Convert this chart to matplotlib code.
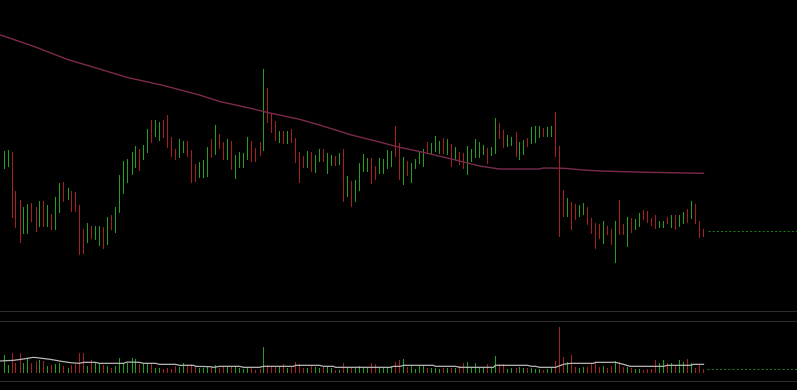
import matplotlib
matplotlib.use("Agg")
import matplotlib.pyplot as plt
import numpy as np

# ---- price bars (arbitrary price units) ----
highs = [149.3,150,147.7,109,100,93.3,96,96.7,93.3,99,
         99,95,86,103.3,116.7,117.7,111.7,109,107.7,95,
         70.7,76.7,74,74.3,74,73.3,82.7,85,93.3,125,
         139,141,147.7,154,151,155,171,180,180,178.3,
         180,185,162.7,151,161,159,159,150,136,137.7,
         140,152.7,161,175,166,157.7,161,159,145,147.7,
         146.7,162.7,159.3,152.3,157.7,231,211.7,186.7,179,169,
         169,169,170.7,161.7,148.3,144.3,149,147.7,145,151,
         150.7,146.7,145,144.3,146.7,150.7,124,119,120,136.7,
         145.7,141.7,141.7,134.3,142.3,141,150,149.3,174,156.7,
         142.7,139,136.7,141,149,151,158.3,156.7,164,159,
         161.7,161,155.7,152.7,147.7,146.7,154,151,161,158.3,
         155,152.3,152.7,181.7,176.7,170,165,162.7,168.3,158.3,
         160,161.7,172.7,174,174,171.7,173.3,174,188.3,154,
         110,101.7,98.3,96,95,97.3,93.3,82.3,76.7,75.7,
         79,74.3,71,79,100,76,83.3,82.3,80.7,86.7,
         90,89,81.7,85,79.3,79,82.7,85,85,85,
         87.7,91,99,96,79,71]
lows = [131.7,134.3,83.3,73.3,58.3,67.3,67.3,79,69.3,74.3,
        74.3,74.3,71,70.7,87.7,99,100.7,89.3,89,45.7,
        47.3,58.3,61.7,61,55,51.7,55.7,70.7,68.3,88.3,
        107.3,118.3,125.7,133.3,130,141,148.3,158.3,164.3,160,
        163.3,153.3,144.3,141,142.7,147.7,144.3,118.3,119.3,123.3,
        123.3,124.3,142.7,145.7,151.7,140.7,141,130.7,121.7,132.7,
        132.7,140.7,139.3,139.3,145,150,177.7,167.7,160,158.3,
        157.3,156.7,158.3,137.7,117.7,132.7,132.7,129.3,128.3,139,
        139.3,126.7,135,135,136,99,104,94,99.3,110,
        129.3,129.3,116.7,120.7,126.7,126.7,131.7,134.3,144.3,121,
        115.7,125,118.3,131.7,136.7,134.3,148.3,146.7,149.3,146.7,
        146.7,146,134.3,141,135.7,131.7,125.7,139.3,142.7,142.7,
        146,137.3,145,146.7,161.7,153.3,154.3,155,144.3,140.7,
        145.7,154.3,156.7,157.7,163.3,164,164,164.3,144.3,64.3,
        84.3,84.3,71,80.7,84.3,85.7,76,66.7,52.3,61.7,
        56.7,66,55.7,38.3,66,65.7,54,67.7,71,74.3,
        80.7,78.3,75,71.7,73.3,73.3,76.7,73.3,70.7,74.3,
        76.7,78.3,82.3,77.3,63.3,64.3]
direction = ("GGRRRGGRRG" "RGRGGRGRRR" "RGRGGRGRGG" "GGGGRGGRGG" "RRRRGGRRRG"
             "GGRGRRGRGG" "GGRRRGRRRG" "RGRRRRGRGG" "RGGRGRGRGG" "GGRRGGGGRR"
             "GRGGGGRGGG" "RGRGRRGGGG" "GRGGRRGGRG" "GRGGGRGGRR" "RGRRGGRRRR"
             "GRRGRRGRGG" "RRRRGGRGRG" "GRGRRR")
volume = [50,20,57,27,57,27,37,27,32,35,
          32,17,20,23,25,17,10,20,23,57,
          57,17,35,27,25,20,17,10,17,40,
          27,25,40,37,23,25,23,25,10,10,
          7,10,7,17,13,25,20,22,15,12,
          10,15,13,19,10,17,15,15,15,10,
          8,13,10,5,8,74,20,15,15,17,
          23,10,15,30,23,10,10,17,13,10,
          17,15,10,5,5,26,10,10,10,17,
          10,10,25,23,10,10,10,17,29,35,
          38,15,17,8,17,17,10,10,12,8,
          10,10,10,10,17,25,29,12,25,12,
          10,22,12,47,22,23,8,10,10,13,
          10,10,10,8,8,5,8,10,32,135,
          43,30,50,13,10,13,13,22,25,13,
          17,10,17,32,30,15,13,10,8,8,
          5,8,8,35,25,35,27,25,20,35,
          29,37,25,10,20,7]

# moving average of price (vertices at bar positions)
ma_idx = [-0.9,0,8,16,24,31,40,49,54,62,66,74,79,87,94,99,104,112,119,124,134,135,140,145,149,161,171,175]
ma_val = [265,264,253,240.5,231,222.5,214.5,205,198.5,191.5,187.5,180.7,175,165,158,152.7,148.5,141,134,131,131,132,131.7,130,129,127.7,127,126.7]

# moving average of volume
vma_idx = [-0.9,2.5,5,7.5,8.3,11.7,14,16.7,19,20,23,24,30,31,34,35,38,39,43,44,47.5,48,51.7,52.5,54,59,60,64,65,
           72.5,73,79,80,82.5,83,96.7,97.5,99.2,100,107.5,108,113,114,122.5,123,131,132,133,134,138,140,141.7,
           147.5,148,153,155,156.7,165,166,171.7,172.5,175]
vma_val = [32,34,38,43,42,37,32,27,25,28,28,25,25,29,28,25,25,22,22,19,19,16,15,13,16,16,13,13,16,
           16,19,19,16,16,13,13,16,16,19,19,16,16,13,13,19,19,16,16,13,13,22,25,
           25,28,28,22,16,16,19,19,22,22]

last_price = 69
last_volume = 7

GREEN = "#22a022"
RED = "#a82020"
BG = "#000000"
SEP = "#2c2c2c"

W, H = 797, 390
fig = plt.figure(figsize=(W/100, H/100), dpi=100, facecolor=BG)
ax = fig.add_axes([0, 90/H, 1, 300/H])
axv = fig.add_axes([0, 0, 1, 90/H])

x = np.arange(len(highs))
cols = [GREEN if d == "G" else RED for d in direction]
xmin, xmax = -3.5/4, (W - 3.5)/4

for a in (ax, axv):
    a.set_facecolor(BG)
    a.set_xlim(xmin, xmax)
    a.set_axis_off()

ax.set_ylim(0, 300)
ax.vlines(x, lows, highs, colors=cols, linewidth=0.72, antialiaseds=False)
ax.plot(ma_idx, ma_val, color="#7c2a4e", linewidth=1.0)
ax.hlines(last_price, len(highs) + 0.2, xmax, colors="#1a7a1a", linewidth=0.75, linestyles=(0, (2, 2)))

axv.set_ylim(-55, 215)
for yv in (182, 152, -28):
    axv.axhline(yv, color=SEP, linewidth=0.8)
axv.vlines(x, 0, volume, colors=cols, linewidth=0.72, antialiaseds=False)
axv.plot(vma_idx, vma_val, color="#b8b8b8", linewidth=0.9)
axv.hlines(last_volume, len(highs) - 0.2, xmax, colors="#1a7a1a", linewidth=0.75, linestyles=(0, (2, 2)))

fig.savefig("out.png", dpi=100, facecolor=BG)
